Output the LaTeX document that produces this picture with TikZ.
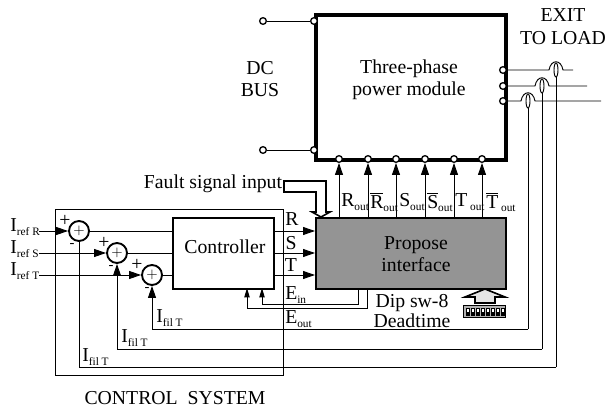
\documentclass[tikz,border=0pt]{standalone}
\usepackage{fontspec}
\setmainfont{Liberation Serif}
\usetikzlibrary{arrows.meta,positioning,calc}
\tikzset{
  block/.style={draw,line width=1.6pt,inner sep=0pt},
  sumnode/.style={circle,draw,line width=1.4pt,minimum size=15pt,inner sep=0pt,font=\fontsize{11}{11}\selectfont},
  port/.style={circle,draw,fill=white,line width=1pt,minimum size=5pt,inner sep=0pt},
  sig/.style={line width=0.7pt},
  flow/.style={line width=0.7pt,-{Triangle[length=9pt,width=6pt]}},
  lbl/.style={font=\fontsize{14.8}{16.5}\selectfont,inner sep=0pt},
  signmark/.style={font=\fontsize{11}{11}\selectfont,inner sep=0pt}
}
\newcommand{\subt}[2]{#1\raisebox{-2.5pt}{\fontsize{8.5}{8.5}\selectfont #2}}
\begin{document}
\begin{tikzpicture}[x=0.75pt,y=-0.75pt]
  \useasboundingbox (0,0) rectangle (608,410);

  % Main blocks
  \node[block,line width=3pt,minimum width=142.5pt,minimum height=108.5pt,anchor=north west] (module) at (314,13) {};
  \node[lbl,align=center] (moduletxt) at (409,80) {Three-phase\\power module};
  \node[block,fill=black!42,minimum width=142.5pt,minimum height=53pt,anchor=north west] (interface) at (315,217) {};
  \node[lbl,align=center] (interfacetxt) at (416,254) {Propose\\interface};
  \node[block,minimum width=76pt,minimum height=53pt,anchor=north west] (controller) at (172,217) {};
  \node[lbl] (controllertxt) at (225,247) {Controller};
  \node[draw,line width=0.7pt,minimum width=171pt,minimum height=124.5pt,anchor=north west] (system) at (55,209) {};

  % DC bus
  \node[lbl,align=center] (dcbus) at (260,79) {DC\\BUS};
  \node[port] (dcplus) at (263,21) {};
  \node[port] (dcminus) at (263,150) {};
  \node[port] (dcplusin) at (314,21) {};
  \node[port] (dcminusin) at (314,150) {};
  \draw[sig] (dcplus) -- (dcplusin);
  \draw[sig] (dcminus) -- (dcminusin);

  % Gate signals
  \foreach \x/\n in {339/a,368/b,396/c,425/d,454/e,482/f} {
    \node[port] (gate\n) at (\x,159) {};
    \coordinate (base\n) at (\x,217);
    \draw[flow] (base\n) -- (gate\n);
  }
  \node[lbl,anchor=west] (rout) at (341,202) {\subt{R}{out}};
  \node[lbl,anchor=west] (routn) at (370,202) {\subt{$\overline{\mbox{R}}$}{out}};
  \node[lbl,anchor=west] (sout) at (399,202) {\subt{S}{out}};
  \node[lbl,anchor=west] (soutn) at (427,202) {\subt{$\overline{\mbox{S}}$}{out}};
  \node[lbl,anchor=west] (tout) at (455,202) {\subt{T}{ out}};
  \node[lbl,anchor=west] (toutn) at (486,202) {\subt{$\overline{\mbox{T}}$}{ out}};

  % Summing junctions
  \node[sumnode] (sumr) at (79,231) {$+$};
  \node[sumnode] (sums) at (117,253) {$+$};
  \node[sumnode] (sumt) at (152,275) {$+$};
  \node[lbl,anchor=west] (irefr) at (10,227) {\subt{I}{ref R}};
  \node[lbl,anchor=west] (irefs) at (10,249) {\subt{I}{ref S}};
  \node[lbl,anchor=west] (ireft) at (10,271) {\subt{I}{ref T}};
  \coordinate (inr) at (39,231);
  \coordinate (ins) at (39,253);
  \coordinate (int) at (39,275);
  \draw[flow] (inr) -- (sumr);
  \draw[flow] (ins) -- (sums);
  \draw[flow] (int) -- (sumt);
  \node[lbl] at (65,221) {+};
  \node[lbl] at (104,243) {+};
  \node[lbl] at (137,265) {+};
  \node[signmark] at (72,245) {-};
  \node[signmark] at (111,267) {-};
  \node[signmark] at (147,289) {-};

  % Controller in and out
  \draw[sig] (sumr) -- (sumr -| controller.west);
  \draw[sig] (sums) -- (sums -| controller.west);
  \draw[sig] (sumt) -- (sumt -| controller.west);
  \draw[flow] (sumr -| controller.east) -- (sumr -| interface.west);
  \draw[flow] (sums -| controller.east) -- (sums -| interface.west);
  \draw[flow] (sumt -| controller.east) -- (sumt -| interface.west);
  \node[lbl] at (292,219) {R};
  \node[lbl] at (291,243) {S};
  \node[lbl] at (291,265) {T};
  \node[lbl,anchor=west] at (285,295) {\subt{E}{in}};
  \node[lbl,anchor=west] at (285,319) {\subt{E}{out}};

  % Error lines back to the controller
  \coordinate (einbase) at (358,288);
  \coordinate (eoutbase) at (367,288);
  \coordinate (einup) at (262,288);
  \coordinate (eoutup) at (247,288);
  \draw[sig,-{Triangle[length=7pt,width=4pt]}] (einbase) |- (262,304) -- (einup);
  \draw[sig,-{Triangle[length=7pt,width=4pt]}] (eoutbase) |- (247,308) -- (eoutup);

  % Fault input
  \node[lbl] (fault) at (213,184) {Fault signal input};
  \draw[line width=1.2pt,fill=white] (284,181) -- (326,181) -- (326,212) -- (330,212) -- (321,217)
    -- (312,212) -- (316,212) -- (316,192) -- (284,192) -- cycle;

  % Dip switch
  \node[lbl,align=center,font=\fontsize{14.8}{13}\selectfont] (dipsw) at (412,311) {Dip sw-8\\Deadtime};
  \draw[line width=1.2pt,fill=black!10] (485,289) -- (505,297) -- (495,297) -- (495,303) -- (475,303) -- (475,297) -- (465,297) -- cycle;
  \node[draw,line width=0.6pt,fill=black!30,minimum width=32pt,minimum height=9.5pt,inner sep=0pt] (dip) at (484.5,311.5) {};
  \foreach \x in {466,471,...,501} {
    \fill (\x,307.5) rectangle ++(3.8,8.5);
    \fill[white] (\x+0.8,308.5) rectangle ++(2.2,3);
  }

  % Feedback with current sensors
  \foreach \xs/\ys/\xe/\yb/\na in {556/70/573/367/r,542/86/587/349/s,528/101/601/329/t} {
    \node[port] (out\na) at (503,\ys) {};
    \coordinate (end\na) at (\xe,\ys);
    \draw[sig] (out\na) -- (\xs-7,\ys) .. controls (\xs-5,\ys-11) and (\xs+5,\ys-11) .. (\xs+7,\ys) -- (end\na);
    \draw[sig] (\xs,\yb) -- (\xs,\ys+7);
    \draw[sig] (\xs,\ys) ellipse (2 and 7);
  }
  \coordinate (fbr) at (556,367);
  \coordinate (fbs) at (542,349);
  \coordinate (fbt) at (528,329);
  \draw[sig] (fbr) -| (sumr);
  \draw[flow] (fbs) -| (sums);
  \draw[flow] (fbt) -| (sumt);
  \node[lbl,anchor=west] at (156,318) {\subt{I}{fil T}};
  \node[lbl,anchor=west] at (121,338) {\subt{I}{fil T}};
  \node[lbl,anchor=west] at (82,357) {\subt{I}{fil T}};

  % Titles
  \node[lbl] (exit) at (563,15) {EXIT};
  \node[lbl] (toload) at (563,38) {TO LOAD};
  \node[lbl] (ctrlsys) at (175,398) {CONTROL\ \ SYSTEM};
\end{tikzpicture}
\end{document}
